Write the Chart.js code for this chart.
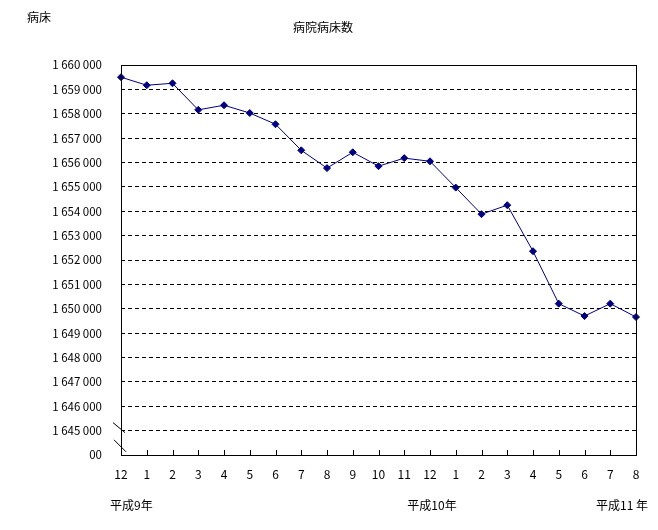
<!DOCTYPE html>
<html><head><meta charset="utf-8">
<script src="https://cdn.jsdelivr.net/npm/chart.js@4/dist/chart.umd.min.js"></script>
<style>html,body{margin:0;padding:0;background:#fff}#wrap{width:658px;height:530px}</style>
</head><body><div id="wrap"><canvas id="c" width="658" height="530"></canvas></div>
<script>
const months = ['12','1','2','3','4','5','6','7','8','9','10','11','12','1','2','3','4','5','6','7','8'];
const beds = [1659500,1659170,1659250,1658160,1658350,1658030,1657570,1656500,1655770,1656420,1655850,1656180,1656050,1654970,1653880,1654250,1652360,1650210,1649700,1650210,1649660];
const yearLabels = ['平成9年','平成10年','平成11 年'];
const yearIndex = [0,12,20];
const yMin = 1644000, yMax = 1660000, yStep = 1000;
const title = '病院病床数';
const unit = '病床';
const FONT = '"Noto Sans CJK JP", sans-serif';

function fmt(v){
  if (v === yMin) return '00';
  return String(v).replace(/\B(?=(\d{3})+(?!\d))/g,' ');
}

const deco = {
  id:'deco',
  afterDraw(chart){
    const ctx = chart.ctx, a = chart.chartArea;
    const xs = chart.scales.x, ys = chart.scales.y;
    ctx.save();
    ctx.strokeStyle = '#000'; ctx.lineWidth = 1;
    ctx.strokeRect(Math.round(a.left)+0.5, Math.round(a.top)+0.5, Math.round(a.right-a.left), Math.round(a.bottom-a.top));
    // inner tick marks on x axis
    ctx.beginPath();
    for (let i=1;i<months.length-1;i++){
      const x = Math.round(xs.getPixelForTick(i))+0.5;
      ctx.moveTo(x, a.bottom); ctx.lineTo(x, a.bottom-5);
    }
    ctx.stroke();
    // axis break marks
    const yb1 = ys.getPixelForValue(yMin+yStep);
    const yb0 = ys.getPixelForValue(yMin);
    ctx.beginPath();
    ctx.moveTo(a.left-8, yb1-8); ctx.lineTo(a.left+4, yb1+2);
    const ym = (yb1+yb0)/2 + 4;
    ctx.moveTo(a.left-7, ym-7); ctx.lineTo(a.left+5, ym+5);
    ctx.stroke();
    // texts
    ctx.fillStyle = '#000';
    ctx.font = '12px ' + FONT;
    ctx.textBaseline = 'middle';
    ctx.textAlign = 'left';
    ctx.fillText(unit, 27, 17);
    ctx.textAlign = 'center';
    ctx.fillText(title, 323, 27);
    ctx.textAlign = 'left';
    ctx.fillText(yearLabels[0], xs.getPixelForTick(yearIndex[0]) - 11, 505);
    ctx.textAlign = 'center';
    ctx.fillText(yearLabels[1], xs.getPixelForTick(yearIndex[1]) + 2, 505);
    ctx.textAlign = 'right';
    ctx.fillText(yearLabels[2], xs.getPixelForTick(yearIndex[2]) + 12, 505);
    ctx.restore();
  }
};

new Chart(document.getElementById('c'), {
  type:'line',
  data:{labels:months, datasets:[{
    data:beds, borderColor:'#000080', backgroundColor:'#000080', borderWidth:1,
    pointStyle:'rectRot', pointRadius:3.5, pointBorderWidth:1, pointBackgroundColor:'#000080', pointBorderColor:'#000080',
    tension:0, clip:false
  }]},
  options:{
    responsive:false, animation:false,
    layout:{padding:{left:0, top:65, right:22, bottom:0}},
    plugins:{legend:{display:false}, tooltip:{enabled:false}, title:{display:false}},
    scales:{
      x:{type:'category', offset:false,
        grid:{display:false, drawTicks:false}, border:{display:false},
        ticks:{autoSkip:false, maxRotation:0, padding:12, color:'#000', font:{family:FONT, size:12}},
        afterFit(s){ s.height = 75; }
      },
      y:{type:'linear', min:yMin, max:yMax,
        grid:{drawTicks:false, color:(c)=> (c.tick && (c.tick.value===yMin || c.tick.value===yMax)) ? 'rgba(0,0,0,0)' : '#000', lineWidth:1},
        border:{display:false, dash:[4,3]},
        ticks:{stepSize:yStep, padding:19, color:'#000', font:{family:FONT, size:11.5}, callback:(v)=>fmt(v)},
        afterFit(s){ s.width = 121; }
      }
    }
  },
  plugins:[deco]
});
</script>
</body></html>
